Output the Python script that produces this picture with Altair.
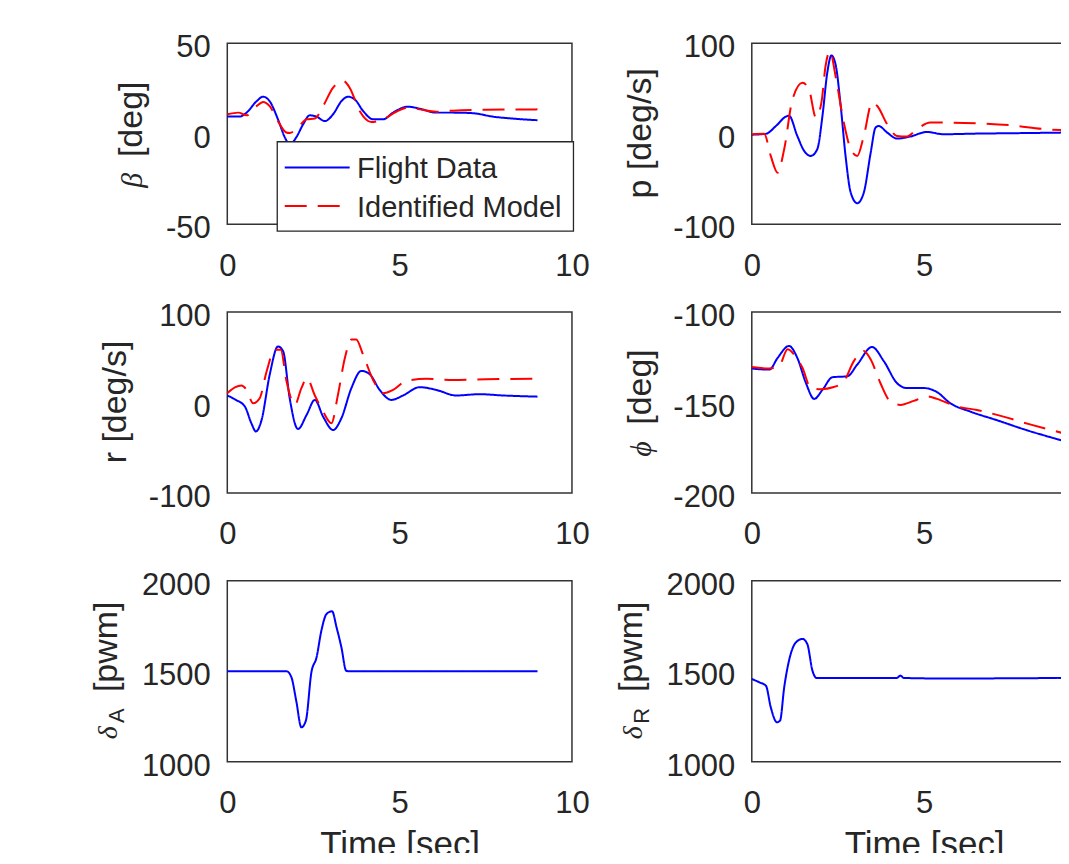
import altair as alt
import pandas as pd

SERIES = ["Flight Data", "Identified Model"]
COLORS = ["#0000ff", "#ff0000"]
DASHES = [[1, 0], [22, 11]]
X_TICKS = [0, 5, 10]

# beta [deg]
beta_fd_t = [0, 0.36, 0.56, 0.85, 1.04, 1.23, 1.47, 1.67, 1.81, 2.0, 2.2, 2.39, 2.59, 2.83, 3.07, 3.31, 3.5, 3.7, 3.94, 4.23, 4.52, 4.81, 5.24, 5.58, 6.06, 6.55, 7.12, 7.7, 8.28, 9.0]
beta_fd_v = [9.5, 9.5, 11.7, 18, 20.5, 18, 8, -2, -6, -2, 5.2, 10.2, 9.5, 7, 10.8, 18, 20.5, 19, 12.6, 8, 8, 11.7, 15, 13.9, 11.7, 11.7, 11.4, 9.5, 8.4, 7.5]
beta_im_t = [0, 0.32, 0.56, 0.85, 1.04, 1.23, 1.47, 1.71, 1.81, 2.05, 2.3, 2.54, 2.78, 3.07, 3.36, 3.55, 3.84, 4.18, 4.52, 4.9, 5.24, 5.58, 6.06, 6.55, 7.51, 9.0]
beta_im_v = [10.8, 11.7, 10.2, 15.3, 17.6, 15.3, 7, 0.7, 0.4, 3.4, 8, 8.4, 15.3, 25.5, 29.2, 25.5, 12.6, 6.5, 8, 12.2, 14.5, 13.5, 12.2, 12.8, 13.3, 13.5]

# p [deg/s]
p_fd_t = [0, 0.41, 0.7, 0.99, 1.08, 1.32, 1.52, 1.71, 1.9, 2.05, 2.19, 2.31, 2.43, 2.58, 2.72, 2.87, 3.06, 3.25, 3.45, 3.59, 3.68, 3.93, 4.21, 4.6, 5.08, 5.56, 6.52, 7.49, 9.0]
p_fd_v = [-1, 0, 8.6, 19, 20, -2.4, -19, -24.5, -17, 19.7, 67.6, 86.7, 76.8, 30.7, -24.5, -65, -76.8, -65, -20.8, 6.8, 8.6, 1.3, -5.3, -3, 2, -0.5, 0.2, 0.6, 1.3]
p_im_t = [0, 0.36, 0.55, 0.75, 0.94, 1.18, 1.47, 1.66, 1.86, 2.02, 2.14, 2.27, 2.43, 2.67, 2.87, 3.06, 3.25, 3.49, 3.64, 3.93, 4.21, 4.5, 4.79, 5.18, 5.56, 6.52, 7.49, 8.55, 9.0]
p_im_v = [-0.5, 0, -24.5, -43, -17, 38, 56.5, 49, 17.9, 34.5, 75, 91.5, 63.9, 12.4, -17, -24.5, -2.4, 34.5, 30.7, 10.5, -2.4, -3, 5, 12.4, 12.4, 11.6, 9.5, 5, 4]

# r [deg/s]
r_fd_t = [0, 0.25, 0.51, 0.7, 0.83, 0.99, 1.23, 1.47, 1.62, 1.81, 2.05, 2.3, 2.54, 2.78, 3.07, 3.31, 3.6, 3.89, 4.13, 4.42, 4.76, 5.1, 5.58, 6.06, 6.64, 7.32, 8.0, 9.0]
r_fd_v = [7.8, 2.9, -4.4, -23, -32, -20, 30.7, 62, 56.7, 4.8, -29.3, -13.8, 2.9, -15.6, -30.4, -17.4, 15.9, 35, 31.4, 14, 2.9, 7.8, 17, 14, 7.8, 9.2, 7.8, 6.5]
r_im_t = [0, 0.22, 0.41, 0.56, 0.75, 0.94, 1.14, 1.38, 1.55, 1.72, 1.96, 2.15, 2.31, 2.54, 2.78, 3.02, 3.21, 3.41, 3.6, 3.74, 3.94, 4.23, 4.52, 4.81, 5.19, 5.77, 6.55, 7.51, 9.0]
r_im_v = [10.3, 16.7, 18.9, 14, -0.8, 4.8, 34.4, 58.4, 58.4, 23.3, -2.6, 15.9, 27, 7.8, -10, -23, 8.5, 49, 69.6, 69.6, 52.9, 25, 10.3, 14, 24, 26.2, 25, 25.8, 26.2]

# phi [deg]
phi_fd_t = [0, 0.51, 0.75, 1.08, 1.32, 1.57, 1.81, 2.05, 2.34, 2.77, 3.06, 3.49, 3.83, 4.21, 4.5, 4.99, 5.37, 5.76, 6.34, 7.1, 7.88, 9.0]
phi_fd_v = [-131.2, -131.8, -125.3, -118.7, -125.3, -139.2, -148, -143, -136, -135.5, -129, -119.3, -127.1, -139.2, -142, -142, -144.2, -150.4, -155, -159.7, -164.7, -171]
phi_im_t = [0, 0.51, 0.79, 1.04, 1.23, 1.47, 1.71, 2.0, 2.38, 2.67, 2.96, 3.25, 3.45, 3.73, 4.02, 4.31, 4.7, 5.08, 5.37, 5.95, 6.53, 7.3, 8.07, 9.0]
phi_im_v = [-130.4, -131.2, -129.9, -120.6, -123.5, -130.8, -142, -142.6, -141.4, -138.3, -127.1, -121.5, -126.2, -139.2, -149.4, -151.3, -149.1, -146.6, -148, -152.2, -154.1, -157.8, -162.1, -166.8]

# delta_A [pwm]
da_t = [0, 1.72, 1.86, 2.0, 2.15, 2.28, 2.44, 2.59, 2.73, 2.88, 3.04, 3.17, 3.31, 3.45, 3.55, 9.0]
da_v = [1500, 1500, 1467, 1337, 1190, 1227, 1494, 1577, 1725, 1817, 1832, 1743, 1633, 1503, 1500, 1500]

# delta_R [pwm]
dr_t = [0, 0.22, 0.41, 0.55, 0.73, 0.82, 0.94, 1.08, 1.28, 1.47, 1.61, 1.76, 1.88, 4.21, 4.31, 4.41, 5.56, 9.0]
dr_v = [1457, 1439, 1420, 1301, 1218, 1227, 1411, 1559, 1660, 1679, 1651, 1503, 1463, 1463, 1476, 1463, 1460, 1463]

FONT = "Liberation Sans"
SERIF = "Liberation Serif"
TXT = "#262626"
FRAME = "#333333"
W, H = 345, 181


def long_df(pairs):
    rows = []
    for name, ts, vs in pairs:
        for i, (t, v) in enumerate(zip(ts, vs)):
            rows.append({"t": t, "v": v, "s": name, "i": i})
    return pd.DataFrame(rows)


def one_row():
    return pd.DataFrame({"k": [0]})


def make_panel(pairs, ydom, yticks, titles, legend=False, xtitle=False):
    df = long_df(pairs)
    xaxis = alt.Axis(values=X_TICKS, title="Time [sec]" if xtitle else None, labelFlush=False,
                     labelExpr="'' + datum.value")
    yaxis = alt.Axis(values=yticks, title=None, labelFlush=False, labelExpr="'' + datum.value")
    lines = alt.Chart(df).mark_line(strokeWidth=2, interpolate="monotone").encode(
        x=alt.X("t:Q", scale=alt.Scale(domain=[0, 10], nice=False, zero=False), axis=xaxis),
        y=alt.Y("v:Q", scale=alt.Scale(domain=ydom, nice=False, zero=False), axis=yaxis),
        color=alt.Color("s:N", scale=alt.Scale(domain=SERIES, range=COLORS), legend=None),
        strokeDash=alt.StrokeDash("s:N", scale=alt.Scale(domain=SERIES, range=DASHES), legend=None),
        order=alt.Order("i:Q"),
    )
    layers = [lines]
    for (s, x, y, font, size, style) in titles:
        layers.append(
            alt.Chart(pd.DataFrame({"s": [s]})).mark_text(
                angle=270, align="center", baseline="alphabetic", font=font,
                fontSize=size, fontStyle=style, color=TXT,
            ).encode(text="s:N", x=alt.value(x), y=alt.value(y))
        )
    if legend:
        layers.append(
            alt.Chart(one_row()).mark_rect(fill="white", stroke=TXT, strokeWidth=1.3).encode(
                x=alt.value(50), x2=alt.value(346.5), y=alt.value(98.5), y2=alt.value(188)
            )
        )
        for k, (name, col, dash) in enumerate(zip(SERIES, COLORS, DASHES)):
            yy = 124.3 + 38.4 * k
            layers.append(
                alt.Chart(one_row()).mark_rule(color=col, strokeDash=dash, strokeWidth=2).encode(
                    x=alt.value(57.5), x2=alt.value(122.5), y=alt.value(yy)
                )
            )
            layers.append(
                alt.Chart(pd.DataFrame({"s": [name]})).mark_text(
                    align="left", baseline="middle", font=FONT, fontSize=29, color=TXT
                ).encode(text="s:N", x=alt.value(129.8), y=alt.value(yy + 1.7))
            )
    return alt.layer(*layers).properties(width=W, height=H)


p1 = make_panel([(SERIES[0], beta_fd_t, beta_fd_v), (SERIES[1], beta_im_t, beta_im_v)],
                [-50, 50], [-50, 0, 50],
                [("[deg]", -85, 76, FONT, 34, "normal"), ("β", -85, 137, SERIF, 30, "italic")],
                legend=True)
p2 = make_panel([(SERIES[0], p_fd_t, p_fd_v), (SERIES[1], p_im_t, p_im_v)],
                [-100, 100], [-100, 0, 100],
                [("p [deg/s]", -101, 90, FONT, 34, "normal")])
p3 = make_panel([(SERIES[0], r_fd_t, r_fd_v), (SERIES[1], r_im_t, r_im_v)],
                [-100, 100], [-100, 0, 100],
                [("r [deg/s]", -101, 90, FONT, 34, "normal")])
p4 = make_panel([(SERIES[0], phi_fd_t, phi_fd_v), (SERIES[1], phi_im_t, phi_im_v)],
                [-200, -100], [-200, -150, -100],
                [("[deg]", -101, 75, FONT, 34, "normal"), ("ϕ", -101, 137, SERIF, 30, "italic")])
p5 = make_panel([(SERIES[0], da_t, da_v)],
                [1000, 2000], [1000, 1500, 2000],
                [("[pwm]", -110, 66, FONT, 34, "normal"), ("A", -103, 135, FONT, 22, "normal"),
                 ("δ", -110, 152, SERIF, 28, "italic")],
                xtitle=True)
p6 = make_panel([(SERIES[0], dr_t, dr_v)],
                [1000, 2000], [1000, 1500, 2000],
                [("[pwm]", -110, 66, FONT, 34, "normal"), ("R", -103, 135, FONT, 22, "normal"),
                 ("δ", -110, 152, SERIF, 28, "italic")],
                xtitle=True)

chart = (
    alt.concat(p1, p2, p3, p4, p5, p6, columns=2,
               spacing={"row": 88, "column": 180}, bounds="flush")
    .resolve_scale(color="independent", strokeDash="independent")
    .properties(padding={"left": 81.5, "top": 22, "right": -53.5, "bottom": -11})
    .configure_view(stroke=FRAME, strokeWidth=1.5)
    .configure_axis(labelFont=FONT, labelFontSize=31, labelColor=TXT, ticks=False,
                    domain=False, grid=False, titleFont=FONT, titleFontSize=35,
                    titleFontWeight="normal", titleColor=TXT)
    .configure_axisX(labelPadding=27, titleY=94, titleBaseline="alphabetic")
    .configure_axisY(labelPadding=17, labelOffset=4.5)
)

chart.save("out.html", embed_options={"renderer": "svg", "actions": False})
